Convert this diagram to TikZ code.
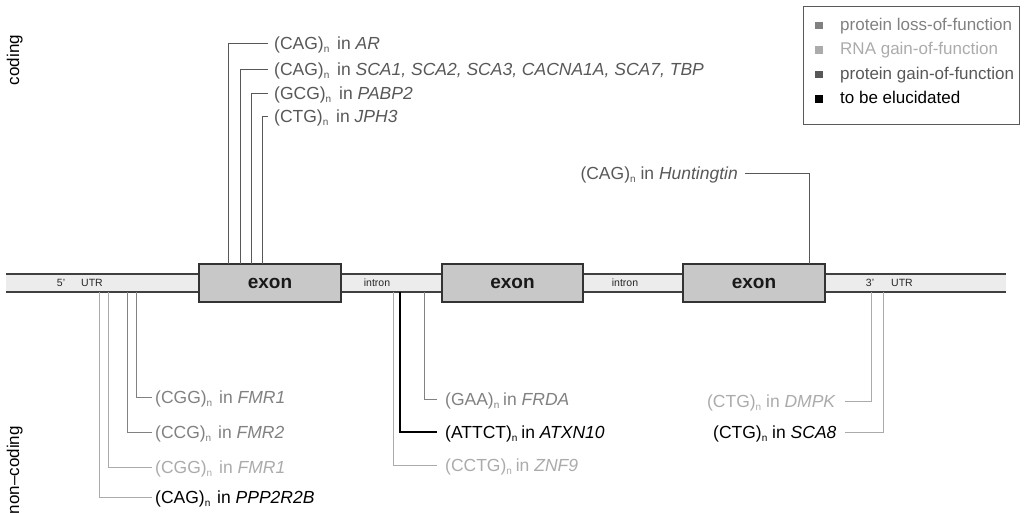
\documentclass[tikz,border=0pt]{standalone}
\usepackage{fontspec}
\setmainfont{Liberation Sans}

% colores de la leyenda
\definecolor{pgain}{HTML}{585858}
\definecolor{ploss}{HTML}{818181}
\definecolor{rgain}{HTML}{ABABAB}
\definecolor{fondo}{HTML}{ECECEC}
\definecolor{gris}{HTML}{C8C8C8}

% repeticion con subindice n
\newcommand{\rpt}[1]{(#1)\raisebox{-3.5pt}{\fontsize{10}{10}\selectfont n}}

\tikzset{
  etiq/.style={font=\fontsize{17.5}{17.5}\selectfont, text height=12.5pt, text depth=0pt, inner ysep=0pt},
  ley/.style={font=\fontsize{17}{17}\selectfont, inner sep=0pt, anchor=base west},
  lado/.style={font=\fontsize{17}{17}\selectfont, inner sep=0pt, rotate=90},
  chica/.style={font=\fontsize{10.5}{11}\selectfont, inner sep=0pt, text=black!85},
  exon/.style={draw=black!80, line width=1.4pt, fill=gris, minimum width=142pt, minimum height=38pt,
               font=\fontsize{19}{19}\selectfont\bfseries, text=black!90},
  lin/.style={line width=1pt}
}

\begin{document}
\begin{tikzpicture}[x=1pt,y=-1pt]
 \useasboundingbox (0,0) rectangle (1024,512);

 % --- FRANJA DEL ARNm ---
 \fill[fondo] (6,274) rectangle (1006,292);
 \draw[black!75, line width=1.3pt] (6,274) -- (1006,274);
 \draw[black!75, line width=1.3pt] (6,292) -- (1006,292);

 % textos pequenos dentro de la franja
 \node[chica] (p5) at (61,283) {5'};
 \node[chica] (u5) at (92,283) {UTR};
 \node[chica] (in1) at (377,283) {intron};
 \node[chica] (in2) at (625,283) {intron};
 \node[chica] (p3) at (870,283) {3'};
 \node[chica] (u3) at (902,283) {UTR};

 % --- EXONES ---
 \node[exon] (ex1) at (270,283) {exon};
 \node[exon, minimum width=141pt] (ex2) at (512.5,283) {exon};
 \node[exon] (ex3) at (754,283) {exon};

 % puntos de llegada sobre los exones y bajo la franja
 \coordinate (t1) at (228,264);
 \coordinate (t2) at (240,264);
 \coordinate (t3) at (251,264);
 \coordinate (t4) at (262,264);
 \coordinate (t5) at (809,264);
 \coordinate (b1) at (136,292);
 \coordinate (b2) at (127,292);
 \coordinate (b3) at (108,292);
 \coordinate (b4) at (99,292);
 \coordinate (b5) at (424,292);
 \coordinate (b6) at (400,292);
 \coordinate (b7) at (393,292);
 \coordinate (b8) at (871,292);
 \coordinate (b9) at (883,292);

 % --- REGION CODIFICANTE ---
 \node[etiq, anchor=west, inner xsep=6pt, pgain] (ar) at (268,43) {\rpt{CAG}\hspace{3pt} in \textit{AR}};
 \node[etiq, anchor=west, inner xsep=6pt, pgain] (sca) at (268,69) {\rpt{CAG}\hspace{3pt} in \textit{SCA1, SCA2, SCA3, CACNA1A, SCA7, TBP}};
 \node[etiq, anchor=west, inner xsep=6pt, pgain] (pabp) at (268,93) {\rpt{GCG}\hspace{3pt} in \textit{PABP2}};
 \node[etiq, anchor=west, inner xsep=6pt, pgain] (jph) at (268,116) {\rpt{CTG}\hspace{3pt} in \textit{JPH3}};
 \node[etiq, anchor=east, inner xsep=7pt, pgain] (htt) at (745,173) {\rpt{CAG} in \textit{Huntingtin}};

 \draw[lin, pgain] (ar.west) -| (t1);
 \draw[lin, pgain] (sca.west) -| (t2);
 \draw[lin, pgain] (pabp.west) -| (t3);
 \draw[lin, pgain] (jph.west) -| (t4);
 \draw[lin, pgain] (htt.east) -| (t5);

 % --- REGION NO CODIFICANTE ---
 % 5' UTR
 \node[etiq, anchor=west, inner xsep=3pt, ploss] (fmra) at (152,397) {\rpt{CGG}\hspace{2pt} in \textit{FMR1}};
 \node[etiq, anchor=west, inner xsep=3pt, ploss] (fmr2) at (152,432) {\rpt{CCG}\hspace{2pt} in \textit{FMR2}};
 \node[etiq, anchor=west, inner xsep=3pt, rgain] (fmrb) at (152,467) {\rpt{CGG}\hspace{2pt} in \textit{FMR1}};
 \node[etiq, anchor=west, inner xsep=3pt, black] (ppp) at (152,497) {\rpt{CAG}\hspace{2pt} in \textit{PPP2R2B}};

 \draw[lin, ploss] (fmra.west) -| (b1);
 \draw[lin, ploss] (fmr2.west) -| (b2);
 \draw[lin, rgain] (fmrb.west) -| (b3);
 \draw[lin, rgain] (ppp.west) -| (b4);

 % intron
 \node[etiq, anchor=west, inner xsep=8pt, ploss] (frda) at (437,399) {\rpt{GAA}\hspace{-1pt} in \textit{FRDA}};
 \node[etiq, anchor=west, inner xsep=8pt, black] (atxn) at (437,432) {\rpt{ATTCT}\hspace{-1pt} in \textit{ATXN10}};
 \node[etiq, anchor=west, inner xsep=8pt, rgain] (znf) at (437,465) {\rpt{CCTG}\hspace{-1pt} in \textit{ZNF9}};

 \draw[lin, ploss] (frda.west) -| (b5);
 \draw[line width=1.6pt, black] (atxn.west) -| (b6);
 \draw[lin, rgain] (znf.west) -| (b7);

 % 3' UTR
 \node[etiq, anchor=east, inner xsep=9pt, rgain] (dmpk) at (845,401) {\rpt{CTG} in \textit{DMPK}};
 \node[etiq, anchor=west, inner xsep=0pt, black] (sca8) at (713,432) {\rpt{CTG} in \textit{SCA8}};

 \draw[lin, rgain] (dmpk.east) -| (b8);
 \draw[lin, rgain] (dmpk.east |- sca8.east) -| (b9);

 % --- ROTULOS LATERALES ---
 \node[lado, anchor=base] (cod) at (19,60) {coding};
 \node[lado, anchor=base east] (nocod) at (19,426) {non--coding};

 % --- LEYENDA ---
 \draw[black!65, line width=1pt] (803,6) rectangle (1019,124);
 \fill[ploss] (815,21.5) rectangle (822.5,29);
 \fill[rgain] (815,46) rectangle (822.5,53.5);
 \fill[pgain] (815,70.5) rectangle (822.5,78);
 \fill[black] (815,95) rectangle (822.5,102.5);
 \node[ley, ploss] (l1) at (840,30) {protein loss-of-function};
 \node[ley, rgain] (l2) at (840,54.5) {RNA gain-of-function};
 \node[ley, pgain] (l3) at (840,79) {protein gain-of-function};
 \node[ley, black] (l4) at (840,103.5) {to be elucidated};

\end{tikzpicture}
\end{document}
